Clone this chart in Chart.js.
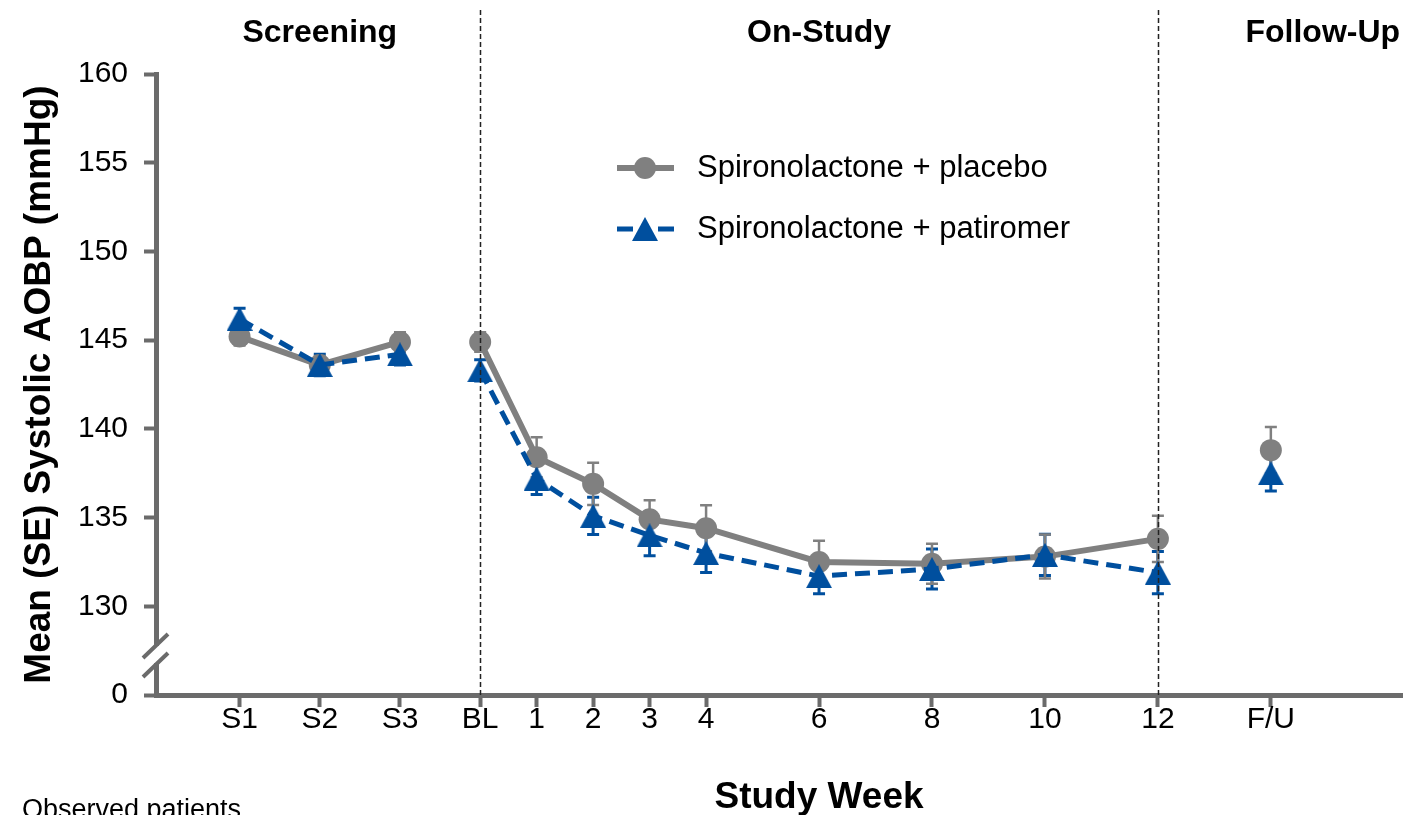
<!DOCTYPE html>
<html>
<head>
<meta charset="utf-8">
<title>Mean (SE) Systolic AOBP by Study Week</title>
<script src="https://cdn.jsdelivr.net/npm/chart.js@4.4.0/dist/chart.umd.min.js"></script>
<style>
  html, body { margin: 0; padding: 0; background: #fff; }
  #wrap { width: 1403px; height: 815px; }
</style>
</head>
<body>
<div id="wrap"><canvas id="bpChart" width="1403" height="815"></canvas></div>
<script>
// Visits and where they sit on the week axis (screening visits left of baseline)
const visitLabels = ['S1', 'S2', 'S3', 'BL', '1', '2', '3', '4', '6', '8', '10', '12', 'F/U'];
const visitWeeks = [-4.26, -2.84, -1.42, 0, 1, 2, 3, 4, 6, 8, 10, 12, 14];
// 0 = screening, 1 = on-study, 2 = follow-up (lines are not joined across phases)
const visitPhase = [0, 0, 0, 1, 1, 1, 1, 1, 1, 1, 1, 1, 2];
const phaseNames = ['Screening', 'On-Study', 'Follow-Up'];

const placeboMean = [145.2, 143.6, 144.9, 144.9, 138.4, 136.9, 134.9, 134.4, 132.5, 132.4, 132.8, 133.8, 138.8];
const placeboSE = [0.5, 0.5, 0.55, 0.55, 1.13, 1.19, 1.07, 1.3, 1.19, 1.13, 1.24, 1.3, 1.3];
const patiromerMean = [146.2, 143.6, 144.2, 143.3, 137.2, 135.1, 134.0, 133.0, 131.7, 132.1, 132.9, 131.9, 137.5];
const patiromerSE = [0.6, 0.6, 0.6, 0.6, 0.9, 1.05, 1.15, 1.1, 1.0, 1.13, 1.16, 1.19, 1.0];

// bottom tick stands for the broken part of the axis, shown as 0
const yTickValues = [125, 130, 135, 140, 145, 150, 155, 160];
const yTickLabels = ['0', '130', '135', '140', '145', '150', '155', '160'];

const FONT = '"Liberation Sans", Arial, Helvetica, sans-serif';
const GRAY = '#808080';
const BLUE = '#004f9e';
const AXIS = '#6b6b6b';

function makeTriangle(color, w, h) {
    const c = document.createElement('canvas');
    c.width = w;
    c.height = h;
    const g = c.getContext('2d');
    g.fillStyle = color;
    g.beginPath();
    g.moveTo(w / 2, 0);
    g.lineTo(w, h);
    g.lineTo(0, h);
    g.closePath();
    g.fill();
    return c;
}
const triangle = makeTriangle(BLUE, 26, 24);

function toPoints(values) {
    return values.map((v, i) => ({ x: visitWeeks[i], y: v }));
}

function phaseSegment(color) {
    return ctx => visitPhase[ctx.p0DataIndex] !== visitPhase[ctx.p1DataIndex] ? 'rgba(0,0,0,0)' : color;
}

// Error bars drawn under the markers
const errorBars = {
    id: 'errorBars',
    beforeDatasetsDraw(chart) {
        const { ctx, scales: { x, y } } = chart;
        chart.data.datasets.forEach(ds => {
            ctx.save();
            ctx.strokeStyle = ds.errColor;
            ctx.lineWidth = ds.errWidth;
            ds.data.forEach((p, i) => {
                const px = x.getPixelForValue(p.x);
                const top = y.getPixelForValue(p.y + ds.se[i]);
                const bot = y.getPixelForValue(p.y - ds.se[i]);
                ctx.beginPath();
                ctx.moveTo(px, top); ctx.lineTo(px, bot);
                ctx.moveTo(px - 6, top); ctx.lineTo(px + 6, top);
                ctx.moveTo(px - 6, bot); ctx.lineTo(px + 6, bot);
                ctx.stroke();
            });
            ctx.restore();
        });
    }
};

// Phase dividers, headers, axis break, legend and notes
const decorations = {
    id: 'decorations',
    afterDatasetsDraw(chart) {
        const { ctx, chartArea, scales: { x } } = chart;
        ctx.save();
        ctx.strokeStyle = '#222';
        ctx.lineWidth = 1.5;
        ctx.setLineDash([5, 3]);
        [0, 12].forEach(w => {
            const px = Math.round(x.getPixelForValue(w)) + 0.5;
            ctx.beginPath();
            ctx.moveTo(px, 10);
            ctx.lineTo(px, chartArea.bottom);
            ctx.stroke();
        });
        ctx.restore();
    },
    afterDraw(chart) {
        const { ctx, chartArea, scales: { x } } = chart;
        ctx.save();

        // section headers
        ctx.fillStyle = '#000';
        ctx.font = 'bold 32px ' + FONT;
        ctx.textAlign = 'center';
        ctx.textBaseline = 'alphabetic';
        [-2.84, 6, 14.92].forEach((w, i) => {
            ctx.fillText(phaseNames[i], x.getPixelForValue(w), 42);
        });

        // x axis title
        ctx.font = 'bold 37px ' + FONT;
        ctx.fillText('Study Week', x.getPixelForValue(6), 808);

        // footnote
        ctx.font = '27px ' + FONT;
        ctx.textAlign = 'left';
        ctx.fillText('Observed patients', 22, 818);

        // axis break
        const ax = chartArea.left;
        ctx.fillStyle = '#fff';
        ctx.fillRect(ax - 4, 646, 8, 17);
        ctx.strokeStyle = AXIS;
        ctx.lineWidth = 4;
        ctx.beginPath();
        ctx.moveTo(ax - 13, 658); ctx.lineTo(ax + 12, 634);
        ctx.moveTo(ax - 13, 677); ctx.lineTo(ax + 12, 653);
        ctx.stroke();

        // legend
        const lx0 = 617, lx1 = 674, mx = 645, tx = 697;
        const rows = [168, 229];
        const ds = chart.data.datasets;
        ctx.font = '31px ' + FONT;
        ctx.textBaseline = 'middle';

        ctx.strokeStyle = GRAY;
        ctx.lineWidth = 6;
        ctx.beginPath();
        ctx.moveTo(lx0, rows[0]); ctx.lineTo(lx1, rows[0]);
        ctx.stroke();
        ctx.fillStyle = GRAY;
        ctx.beginPath();
        ctx.arc(mx, rows[0], 11, 0, Math.PI * 2);
        ctx.fill();

        ctx.strokeStyle = BLUE;
        ctx.lineWidth = 5;
        ctx.setLineDash([16, 25]);
        ctx.beginPath();
        ctx.moveTo(lx0, rows[1]); ctx.lineTo(lx1, rows[1]);
        ctx.stroke();
        ctx.setLineDash([]);
        ctx.drawImage(triangle, mx - triangle.width / 2, rows[1] - triangle.height / 2);

        ctx.fillStyle = '#000';
        ctx.fillText(ds[1].label, tx, rows[0]);
        ctx.fillText(ds[0].label, tx, rows[1]);

        ctx.restore();
    }
};

new Chart(document.getElementById('bpChart').getContext('2d'), {
    type: 'line',
    data: {
        datasets: [
            {
                label: 'Spironolactone + patiromer',
                data: toPoints(patiromerMean),
                se: patiromerSE,
                errColor: BLUE,
                errWidth: 3,
                borderColor: BLUE,
                borderWidth: 5,
                borderDash: [15, 8],
                segment: { borderColor: phaseSegment(BLUE) },
                pointStyle: triangle,
                pointBackgroundColor: BLUE,
                pointBorderWidth: 0,
                tension: 0,
                order: 0
            },
            {
                label: 'Spironolactone + placebo',
                data: toPoints(placeboMean),
                se: placeboSE,
                errColor: GRAY,
                errWidth: 2.5,
                borderColor: GRAY,
                borderWidth: 6,
                segment: { borderColor: phaseSegment(GRAY) },
                pointStyle: 'circle',
                pointRadius: 11,
                pointBackgroundColor: GRAY,
                pointBorderWidth: 0,
                tension: 0,
                order: 1
            }
        ]
    },
    options: {
        responsive: false,
        animation: false,
        events: [],
        layout: { autoPadding: false, padding: { top: 74, left: 0, right: 0, bottom: 0 } },
        plugins: {
            legend: { display: false },
            tooltip: { enabled: false }
        },
        scales: {
            x: {
                type: 'linear',
                min: -5.74,
                max: 16.34,
                afterFit: scale => { scale.height = 120; },
                afterBuildTicks: scale => {
                    scale.ticks = visitWeeks.map(v => ({ value: v }));
                },
                border: { display: true, color: AXIS, width: 5 },
                grid: {
                    drawOnChartArea: false,
                    drawTicks: true,
                    tickLength: 12,
                    tickWidth: 4,
                    tickColor: AXIS
                },
                ticks: {
                    autoSkip: false,
                    maxRotation: 0,
                    padding: -5,
                    color: '#000',
                    font: { family: FONT, size: 30 },
                    callback: (value, index) => visitLabels[index]
                }
            },
            y: {
                type: 'linear',
                min: 125,
                max: 160,
                afterFit: scale => { scale.width = 156; },
                afterBuildTicks: scale => {
                    scale.ticks = yTickValues.map(v => ({ value: v }));
                },
                border: { display: true, color: AXIS, width: 5 },
                grid: {
                    drawOnChartArea: false,
                    drawTicks: true,
                    tickLength: 12,
                    tickWidth: 4,
                    tickColor: AXIS
                },
                ticks: {
                    padding: 16,
                    color: '#000',
                    font: { family: FONT, size: 30 },
                    callback: (value, index) => yTickLabels[index]
                },
                title: {
                    display: true,
                    text: 'Mean (SE) Systolic AOBP (mmHg)',
                    color: '#000',
                    font: { family: FONT, size: 37, weight: 'bold' },
                    padding: { top: 18, bottom: 0 }
                }
            }
        }
    },
    plugins: [errorBars, decorations]
});
</script>
</body>
</html>
